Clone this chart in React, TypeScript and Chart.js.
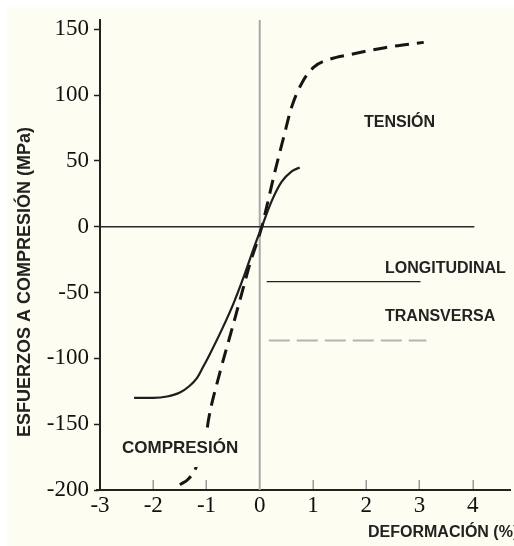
import React, { useEffect, useRef } from 'react';
import { Chart, registerables } from 'chart.js';

Chart.register(...registerables);

// Longitudinal curve (solid)
const longX = [-2.36, -2.0, -1.74, -1.5, -1.32, -1.18, -1.07, -0.94, -0.71, -0.49, -0.3, -0.11, 0.04, 0.23, 0.41, 0.6, 0.75];
const longY = [-130, -130, -129, -126, -121, -115, -107, -97, -78, -58, -38, -16, 0, 20, 34, 42, 45];

// Transverse curve (dashed)
const transX = [-1.5, -1.35, -1.22, -1.1, -0.99, -0.96, -0.75, -0.53, -0.34, -0.19, 0.04, 0.13, 0.28, 0.45, 0.6, 0.79, 1.01, 1.3, 1.73, 2.35, 3.08];
const transY = [-196, -192, -185, -172, -154, -146, -111, -79, -51, -29, 0, 15, 41, 68, 91, 109, 121, 127, 131, 136, 140];

// Legend sample lines
const legendLongX = [0.13, 3.02];
const legendLongY = [-41.7, -41.7];
const legendTransX = [0.17, 3.13];
const legendTransY = [-86.5, -86.5];

// Reference lines
const zeroLineX = [-3, 4.03];
const zeroLineY = [0, 0];
const originLineX = [0, 0];
const originLineY = [-200, 157];

// Axes
const xTicks = [-3, -2, -1, 0, 1, 2, 3, 4];
const yTicks = [-200, -150, -100, -50, 0, 50, 100, 150];
const xInnerTicks = [-2, -1, 1, 2, 3, 4];

const yTitle = 'ESFUERZOS A COMPRESIÓN (MPa)';
const xTitle = 'DEFORMACIÓN (%)';
const labelTension = 'TENSIÓN';
const labelCompresion = 'COMPRESIÓN';
const labelLong = 'LONGITUDINAL';
const labelTrans = 'TRANSVERSA';

const pts = (xs: number[], ys: number[]) => xs.map((x, i) => ({ x, y: ys[i] }));

const CREAM = '#fdfdf2';

const bgPlugin = {
  id: 'bgPlugin',
  beforeDraw(chart: any) {
    const { ctx, width, height } = chart;
    ctx.save();
    ctx.fillStyle = '#ffffff';
    ctx.fillRect(0, 0, width, height);
    ctx.fillStyle = CREAM;
    ctx.fillRect(7, 7, width - 7, height - 7);
    ctx.restore();
  },
};

const decoPlugin = {
  id: 'decoPlugin',
  afterDatasetsDraw(chart: any) {
    const { ctx } = chart;
    const xs = chart.scales.x;
    const { bottom, left } = chart.chartArea;
    ctx.save();
    // small extension of the x axis line left of the y axis
    ctx.strokeStyle = '#222';
    ctx.lineWidth = 2;
    ctx.beginPath();
    ctx.moveTo(left - 4, bottom);
    ctx.lineTo(left, bottom);
    ctx.stroke();
    // inward x ticks
    ctx.strokeStyle = '#9a9a9a';
    ctx.lineWidth = 1.5;
    xInnerTicks.forEach((v) => {
      const px = Math.round(xs.getPixelForValue(v)) + 0.25;
      ctx.beginPath();
      ctx.moveTo(px, bottom - 1);
      ctx.lineTo(px, bottom - 10);
      ctx.stroke();
    });
    // COMPRESIÓN label with background
    ctx.font = 'bold 17px "Liberation Sans", Arial, sans-serif';
    ctx.textBaseline = 'alphabetic';
    ctx.textAlign = 'left';
    const w = ctx.measureText(labelCompresion).width;
    ctx.fillStyle = CREAM;
    ctx.fillRect(118, 435, w + 8, 32);
    ctx.fillStyle = '#222';
    ctx.fillText(labelCompresion, 122, 453);

    ctx.font = 'bold 16px "Liberation Sans", Arial, sans-serif';
    ctx.fillText(labelTension, 364, 127);
    ctx.fillText(labelLong, 385, 273);
    ctx.fillText(labelTrans, 385, 321);
    ctx.fillText(xTitle, 368, 537);

    ctx.font = 'bold 18px "Liberation Sans", Arial, sans-serif';
    ctx.translate(30, 282);
    ctx.rotate(-Math.PI / 2);
    ctx.textAlign = 'center';
    ctx.fillText(yTitle, 0, 0);
    ctx.restore();
  },
};

export default function App() {
  const ref = useRef<HTMLCanvasElement | null>(null);

  useEffect(() => {
    document.body.style.margin = '0';
    if (!ref.current) return;
    const chart = new Chart(ref.current, {
      type: 'scatter',
      data: {
        datasets: [
          {
            data: pts(longX, longY),
            showLine: true,
            borderColor: '#1e1e1e',
            borderWidth: 2.2,
            pointRadius: 0,
            cubicInterpolationMode: 'monotone',
          },
          {
            data: pts(transX, transY),
            showLine: true,
            borderColor: '#151515',
            borderWidth: 3,
            borderDash: [14, 8],
            pointRadius: 0,
            cubicInterpolationMode: 'monotone',
          },
          {
            data: pts(legendLongX, legendLongY),
            showLine: true,
            borderColor: '#222',
            borderWidth: 1.2,
            pointRadius: 0,
          },
          {
            data: pts(legendTransX, legendTransY),
            showLine: true,
            borderColor: '#b3b3b3',
            borderWidth: 2,
            borderDash: [21, 7],
            pointRadius: 0,
          },
          {
            data: pts(zeroLineX, zeroLineY),
            showLine: true,
            borderColor: '#2a2a2a',
            borderWidth: 1.6,
            pointRadius: 0,
          },
          {
            data: pts(originLineX, originLineY),
            showLine: true,
            borderColor: '#a8a8a8',
            borderWidth: 2,
            pointRadius: 0,
          },
        ],
      } as any,
      options: {
        animation: false,
        responsive: false,
        devicePixelRatio: 1,
        layout: { padding: { left: 8, right: 4, top: 20, bottom: 0 } },
        plugins: { legend: { display: false }, tooltip: { enabled: false } },
        scales: {
          x: {
            type: 'linear',
            min: -3,
            max: 4.7,
            afterBuildTicks: (s: any) => {
              s.ticks = xTicks.map((v) => ({ value: v }));
            },
            afterFit: (s: any) => {
              s.height = 56;
            },
            grid: { drawOnChartArea: false, drawTicks: false },
            border: { color: '#222', width: 2 },
            ticks: {
              font: { family: '"Liberation Serif", "Times New Roman", serif', size: 23 },
              color: '#111',
              padding: 2,
              autoSkip: false,
              maxRotation: 0,
            },
          },
          y: {
            type: 'linear',
            min: -200,
            max: 157,
            afterBuildTicks: (s: any) => {
              s.ticks = yTicks.map((v) => ({ value: v }));
            },
            afterFit: (s: any) => {
              s.width = 92;
            },
            grid: { drawOnChartArea: false, drawTicks: true, tickLength: 6, tickColor: '#222', tickWidth: 1.5 },
            border: { color: '#222', width: 2 },
            ticks: {
              font: { family: '"Liberation Serif", "Times New Roman", serif', size: 23 },
              color: '#111',
              padding: 5,
            },
          },
        },
      } as any,
      plugins: [bgPlugin, decoPlugin],
    });
    return () => chart.destroy();
  }, []);

  return <canvas ref={ref} width={514} height={546} style={{ display: 'block', width: 514, height: 546 }} />;
}
